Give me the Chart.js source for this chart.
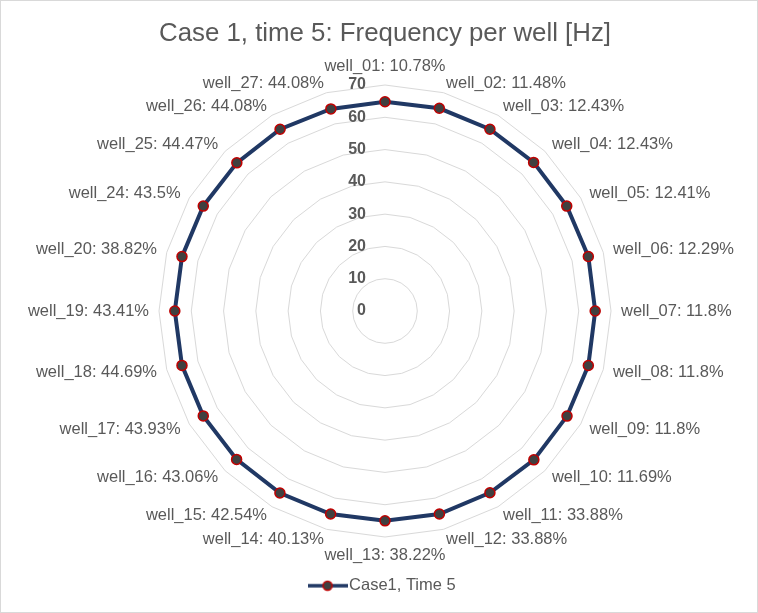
<!DOCTYPE html>
<html>
<head>
<meta charset="utf-8">
<script src="https://cdn.jsdelivr.net/npm/chart.js@4/dist/chart.umd.min.js"></script>
<style>
  html, body { margin: 0; padding: 0; background: #ffffff; }
  #wrap { position: relative; width: 758px; height: 613px; }
</style>
</head>
<body>
<div id="wrap"><canvas id="radar"></canvas></div>
<script>
// Wells shown around the radar, clockwise from the top
const wells = ['well_01', 'well_02', 'well_03', 'well_04', 'well_05', 'well_06', 'well_07', 'well_08',
  'well_09', 'well_10', 'well_11', 'well_12', 'well_13', 'well_14', 'well_15', 'well_16',
  'well_17', 'well_18', 'well_19', 'well_20', 'well_24', 'well_25', 'well_26', 'well_27'];

// Share per well, printed next to each well name
const sharePercent = [10.78, 11.48, 12.43, 12.43, 12.41, 12.29, 11.8, 11.8,
  11.8, 11.69, 33.88, 33.88, 38.22, 40.13, 42.54, 43.06,
  43.93, 44.69, 43.41, 38.82, 43.5, 44.47, 44.08, 44.08];

// Frequency per well [Hz], case 1, time 5
const frequencyHz = [64.8, 65.0, 65.0, 65.1, 65.0, 65.2, 65.1, 65.2,
  65.1, 65.2, 65.0, 65.1, 65.0, 65.1, 65.1, 65.0,
  65.0, 65.1, 65.1, 65.1, 65.0, 64.9, 65.0, 64.8];

// Radial tick labels
const tickValues = [0, 10, 20, 30, 40, 50, 60, 70];

const seriesName = 'Case1, Time 5';
const chartTitle = 'Case 1, time 5: Frequency per well [Hz]';

const categoryLabels = wells.map((w, i) => w + ': ' + sharePercent[i] + '%');

const FONT = "'Liberation Sans', Arial, sans-serif";
const TEXT_GREY = '#595959';
const LINE_NAVY = '#203864';
const MARKER_FILL = '#404040';
const MARKER_EDGE = '#c00000';
const LABEL_SIZE = 16.5;

// Legend symbol: line segment with a marker in the middle
function makeLegendIcon() {
  const c = document.createElement('canvas');
  c.width = 40; c.height = 12;
  const g = c.getContext('2d');
  g.strokeStyle = LINE_NAVY;
  g.lineWidth = 3.5;
  g.beginPath(); g.moveTo(0, 6); g.lineTo(40, 6); g.stroke();
  g.beginPath(); g.arc(20, 6, 4.5, 0, Math.PI * 2);
  g.fillStyle = MARKER_FILL; g.fill();
  g.lineWidth = 1.5; g.strokeStyle = MARKER_EDGE; g.stroke();
  return c;
}
const legendIcon = makeLegendIcon();

// Outer frame of the chart
const framePlugin = {
  id: 'frame',
  beforeDraw(chart) {
    const ctx = chart.ctx;
    ctx.save();
    ctx.fillStyle = '#ffffff';
    ctx.fillRect(0, 0, chart.width, chart.height);
    ctx.strokeStyle = '#d9d9d9';
    ctx.lineWidth = 1;
    ctx.strokeRect(0.5, 0.5, chart.width - 1, chart.height - 1);
    ctx.restore();
  }
};

// Bold value labels along the vertical axis, set just left of the centre
const radialTicksPlugin = {
  id: 'radialTicks',
  beforeDatasetsDraw(chart) {
    const r = chart.scales.r;
    const ctx = chart.ctx;
    ctx.save();
    ctx.font = 'bold 16px ' + FONT;
    ctx.fillStyle = TEXT_GREY;
    ctx.textAlign = 'right';
    ctx.textBaseline = 'middle';
    tickValues.forEach(v => {
      const d = r.getDistanceFromCenterForValue(v);
      ctx.fillText(String(v), r.xCenter - 19, r.yCenter - d);
    });
    ctx.restore();
  }
};

// Category labels around the outer ring: centred above/below at the top and
// bottom, otherwise left/right aligned and vertically centred on the spoke end
const categoryLabelPlugin = {
  id: 'categoryLabels',
  afterDatasetsDraw(chart) {
    const r = chart.scales.r;
    const ctx = chart.ctx;
    const labels = chart.data.labels;
    const n = labels.length;
    const half = LABEL_SIZE * 0.5;
    ctx.save();
    ctx.font = LABEL_SIZE + 'px ' + FONT;
    ctx.fillStyle = TEXT_GREY;
    ctx.textBaseline = 'middle';
    labels.forEach((text, i) => {
      const p = r.getPointPosition(i, r.drawingArea + 10);
      const deg = Math.round(i * 360 / n);
      let x = p.x, y = p.y;
      if (deg === 0) { ctx.textAlign = 'center'; y -= half; }
      else if (deg === 180) { ctx.textAlign = 'center'; y += half; }
      else if (deg < 180) { ctx.textAlign = 'left'; }
      else { ctx.textAlign = 'right'; }
      ctx.fillText(text, x, y);
    });
    ctx.restore();
  }
};

new Chart(document.getElementById('radar'), {
  type: 'radar',
  data: {
    labels: categoryLabels,
    datasets: [{
      label: seriesName,
      data: frequencyHz,
      borderColor: LINE_NAVY,
      borderWidth: 4,
      backgroundColor: 'transparent',
      fill: false,
      tension: 0,
      pointRadius: 5,
      pointBorderWidth: 1.5,
      pointBackgroundColor: MARKER_FILL,
      pointBorderColor: MARKER_EDGE,
      pointHoverRadius: 5
    }]
  },
  options: {
    responsive: true,
    maintainAspectRatio: false,
    animation: false,
    layout: { padding: { left: 159, right: 147, top: 0, bottom: 9 } },
    scales: {
      r: {
        min: 0,
        max: 70,
        ticks: { display: false, stepSize: 10 },
        grid: { color: '#d9d9d9', lineWidth: 1 },
        angleLines: { display: false },
        pointLabels: { display: false }
      }
    },
    plugins: {
      title: {
        display: true,
        text: chartTitle,
        color: TEXT_GREY,
        font: { family: FONT, size: 26, weight: 'normal' },
        padding: { top: 18, bottom: 7 }
      },
      legend: {
        position: 'bottom',
        labels: {
          usePointStyle: true,
          pointStyleWidth: 26.5,
          color: TEXT_GREY,
          font: { family: FONT, size: LABEL_SIZE },
          padding: 10,
          generateLabels: () => [{
            text: seriesName,
            pointStyle: legendIcon,
            fillStyle: 'transparent',
            strokeStyle: 'transparent',
            lineWidth: 0,
            fontColor: TEXT_GREY,
            hidden: false,
            datasetIndex: 0
          }]
        }
      },
      tooltip: { enabled: false }
    }
  },
  plugins: [framePlugin, radialTicksPlugin, categoryLabelPlugin]
});
</script>
</body>
</html>
